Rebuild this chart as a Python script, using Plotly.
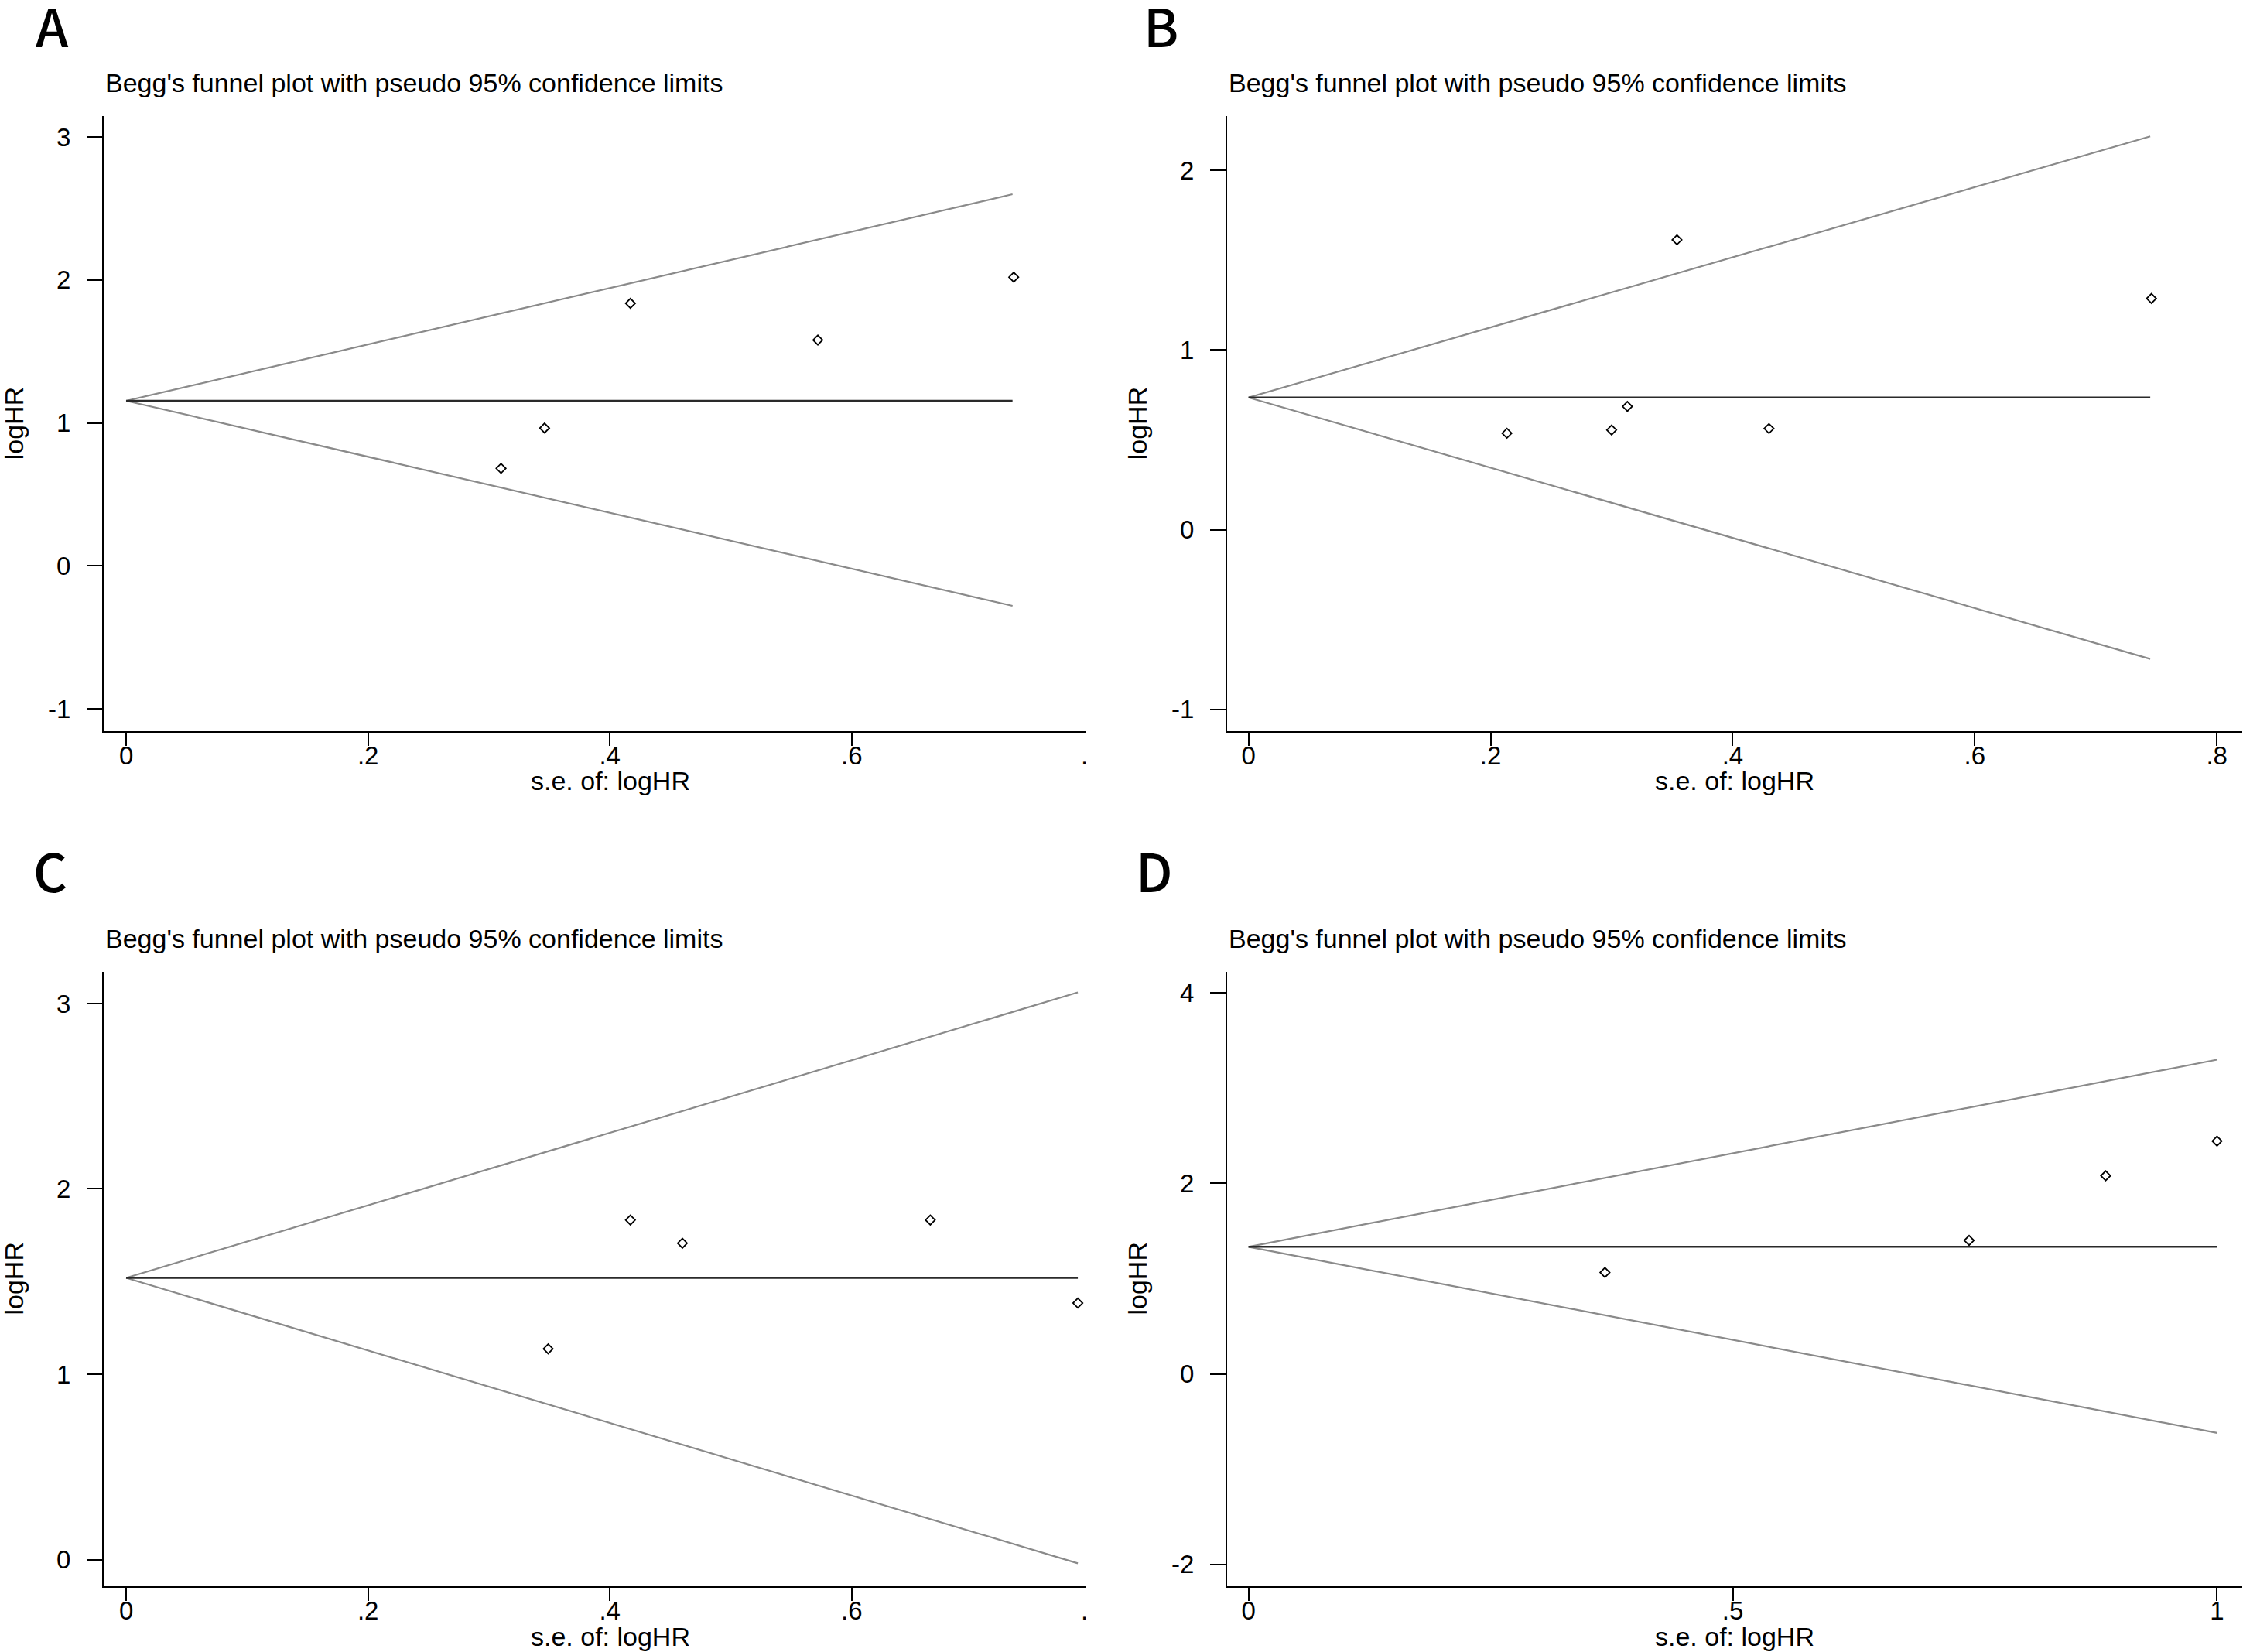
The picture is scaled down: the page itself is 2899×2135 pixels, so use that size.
import plotly.graph_objects as go

W, H = 2899, 2135

# ---------------- data ----------------
# Panel A
A_se = [0.310, 0.346, 0.417, 0.572, 0.734]
A_loghr = [0.682, 0.964, 1.837, 1.580, 2.020]
A_funnel_se = [0.0, 0.733]
A_pooled = [1.155, 1.155]
A_upper = [1.155, 2.600]
A_lower = [1.155, -0.280]

# Panel B
B_se = [0.2135, 0.300, 0.313, 0.354, 0.430, 0.746]
B_loghr = [0.537, 0.555, 0.686, 1.614, 0.563, 1.287]
B_funnel_se = [0.0, 0.745]
B_pooled = [0.736, 0.736]
B_upper = [0.736, 2.190]
B_lower = [0.736, -0.720]

# Panel C
C_se = [0.349, 0.417, 0.460, 0.665, 0.787]
C_loghr = [1.137, 1.832, 1.707, 1.832, 1.384]
C_funnel_se = [0.0, 0.787]
C_pooled = [1.520, 1.520]
C_upper = [1.520, 3.060]
C_lower = [1.520, -0.020]

# Panel D
D_se = [0.368, 0.744, 0.885, 1.000]
D_loghr = [1.065, 1.402, 2.081, 2.445]
D_funnel_se = [0.0, 1.000]
D_pooled = [1.335, 1.335]
D_upper = [1.335, 3.300]
D_lower = [1.335, -0.620]

# tick labels
A_xticks = [0, 0.2, 0.4, 0.6]
A_xtext = ["0", ".2", ".4", ".6"]
A_yticks = [-1, 0, 1, 2, 3]
A_ytext = ["-1", "0", "1", "2", "3"]
B_xticks = [0, 0.2, 0.4, 0.6, 0.8]
B_xtext = ["0", ".2", ".4", ".6", ".8"]
B_yticks = [-1, 0, 1, 2]
B_ytext = ["-1", "0", "1", "2"]
C_xticks = [0, 0.2, 0.4, 0.6]
C_xtext = ["0", ".2", ".4", ".6"]
C_yticks = [0, 1, 2, 3]
C_ytext = ["0", "1", "2", "3"]
D_xticks = [0, 0.5, 1]
D_xtext = ["0", ".5", "1"]
D_yticks = [-2, 0, 2, 4]
D_ytext = ["-2", "0", "2", "4"]

panel_letters = ["A", "B", "C", "D"]
title_text = "Begg's funnel plot with pseudo 95% confidence limits"
x_title = "s.e. of: logHR"
y_title = "logHR"
cut_tick_text = "."  # truncated ".8" label at the cropped right edge of A and C

# ---------------- layout helpers ----------------
def fx(px):
    return px / W

def fy(py):
    return 1 - py / H

FONT = "Arial, Liberation Sans, sans-serif"
FS = 34
TFS = 33

panels = [
    dict(letter=panel_letters[0], se=A_se, y=A_loghr, fse=A_funnel_se, pooled=A_pooled, up=A_upper, lo=A_lower,
         xt=A_xticks, xtt=A_xtext, yt=A_yticks, ytt=A_ytext, xr=[-0.0186, 0.794], yr=[-1.154, 3.147],
         xpx=(134, 1404), ypx=(150, 944.5), letter_px=(44, 32), cut=True),
    dict(letter=panel_letters[1], se=B_se, y=B_loghr, fse=B_funnel_se, pooled=B_pooled, up=B_upper, lo=B_lower,
         xt=B_xticks, xtt=B_xtext, yt=B_yticks, ytt=B_ytext, xr=[-0.0177, 0.821], yr=[-1.120, 2.303],
         xpx=(1586, 2898), ypx=(150, 944.5), letter_px=(1476, 32), cut=False),
    dict(letter=panel_letters[2], se=C_se, y=C_loghr, fse=C_funnel_se, pooled=C_pooled, up=C_upper, lo=C_lower,
         xt=C_xticks, xtt=C_xtext, yt=C_yticks, ytt=C_ytext, xr=[-0.0186, 0.794], yr=[-0.142, 3.173],
         xpx=(134, 1404), ypx=(1255.5, 2049.6), letter_px=(41, 1123), cut=True),
    dict(letter=panel_letters[3], se=D_se, y=D_loghr, fse=D_funnel_se, pooled=D_pooled, up=D_upper, lo=D_lower,
         xt=D_xticks, xtt=D_xtext, yt=D_yticks, ytt=D_ytext, xr=[-0.0221, 1.026], yr=[-2.226, 4.226],
         xpx=(1586, 2898), ypx=(1255.5, 2049.6), letter_px=(1466, 1123), cut=False),
]

fig = go.Figure()
annotations = []
layout = {}

for i, p in enumerate(panels, start=1):
    xa = "x" if i == 1 else f"x{i}"
    ya = "y" if i == 1 else f"y{i}"
    # funnel limits
    fig.add_trace(go.Scatter(x=p["fse"], y=p["up"], mode="lines",
                             line=dict(color="#8a8a8a", width=2.2), xaxis=xa, yaxis=ya,
                             showlegend=False, hoverinfo="skip"))
    fig.add_trace(go.Scatter(x=p["fse"], y=p["lo"], mode="lines",
                             line=dict(color="#8a8a8a", width=2.2), xaxis=xa, yaxis=ya,
                             showlegend=False, hoverinfo="skip"))
    fig.add_trace(go.Scatter(x=p["fse"], y=p["pooled"], mode="lines",
                             line=dict(color="#2a2a2a", width=2.4), xaxis=xa, yaxis=ya,
                             showlegend=False, hoverinfo="skip"))
    fig.add_trace(go.Scatter(x=p["se"], y=p["y"], mode="markers",
                             marker=dict(symbol="diamond-open", size=9.5, color="black",
                                         line=dict(color="black", width=1.8)),
                             xaxis=xa, yaxis=ya, showlegend=False))

    xkey = "xaxis" if i == 1 else f"xaxis{i}"
    ykey = "yaxis" if i == 1 else f"yaxis{i}"
    layout[xkey] = dict(
        domain=[fx(p["xpx"][0]), fx(p["xpx"][1])], range=p["xr"], anchor=ya,
        tickmode="array", tickvals=p["xt"], ticktext=p["xtt"],
        ticks="outside", ticklen=17, tickwidth=2, tickcolor="black",
        showline=True, linecolor="black", linewidth=2, showgrid=False, zeroline=False,
        tickfont=dict(family=FONT, size=TFS, color="black"), ticklabelstandoff=-15,
    )
    layout[ykey] = dict(
        domain=[fy(p["ypx"][1]), fy(p["ypx"][0])], range=p["yr"], anchor=xa,
        tickmode="array", tickvals=p["yt"], ticktext=p["ytt"],
        ticks="outside", ticklen=20, tickwidth=2, tickcolor="black",
        showline=True, linecolor="black", linewidth=2, showgrid=False, zeroline=False,
        tickfont=dict(family=FONT, size=TFS, color="black"), ticklabelstandoff=14,
    )

    x0, x1 = p["xpx"]
    y0, y1 = p["ypx"]
    # panel letter
    annotations.append(dict(text=p["letter"], x=fx(p["letter_px"][0]), y=fy(p["letter_px"][1]),
                            xref="paper", yref="paper", xanchor="left", yanchor="middle",
                            showarrow=False,
                            font=dict(family="Noto Sans CJK SC", size=68, color="black",
                                      weight=500)))
    # title
    annotations.append(dict(text=title_text, x=fx(x0), y=fy(y0 - 43),
                            xref="paper", yref="paper", xanchor="left", yanchor="middle",
                            showarrow=False, font=dict(family=FONT, size=FS, color="black")))
    # x-axis title (centred on the uncropped plot region)
    xc = x0 + ((1444 - 134) if p["cut"] else (x1 - x0)) / 2
    annotations.append(dict(text=x_title, x=fx(xc), y=fy(y1 + 65), xref="paper", yref="paper",
                            xanchor="center", yanchor="middle", showarrow=False,
                            font=dict(family=FONT, size=FS, color="black")))
    # y-axis title
    annotations.append(dict(text=y_title, x=fx(x0 - 116), y=fy((y0 + y1) / 2),
                            xref="paper", yref="paper", xanchor="center", yanchor="middle",
                            textangle=-90, showarrow=False,
                            font=dict(family=FONT, size=FS, color="black")))
    if p["cut"]:
        annotations.append(dict(text=cut_tick_text, x=0.7925, y=fy(y1 + 32),
                                xref=xa, yref="paper", xanchor="center", yanchor="middle",
                                showarrow=False, font=dict(family=FONT, size=TFS, color="black")))

fig.update_layout(
    width=W, height=H,
    margin=dict(l=0, r=0, t=0, b=0),
    paper_bgcolor="white", plot_bgcolor="white",
    annotations=annotations,
    **layout,
)

# remove the default page margin so the figure fills the window exactly
fig.write_html(
    "out.html",
    config={"displayModeBar": False},
    post_script="document.body.style.margin='0';"
                "document.documentElement.style.overflow='hidden';"
                "document.body.style.overflow='hidden';",
)
